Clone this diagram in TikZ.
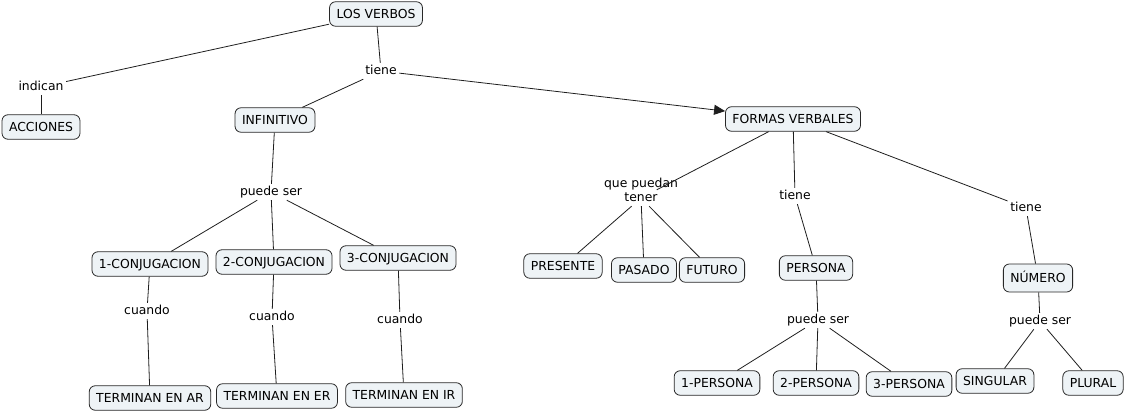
\documentclass[tikz,border=0pt]{standalone}
\usepackage{fontspec}
\setmainfont{DejaVu Sans}
\usetikzlibrary{arrows.meta}
\definecolor{boxfill}{RGB}{238,243,246}
\definecolor{boxline}{RGB}{40,40,40}
\definecolor{linkline}{RGB}{30,30,30}
\begin{document}
\begin{tikzpicture}[x=1pt,y=-1pt,
  concept/.style={draw=boxline,line width=0.8pt,fill=boxfill,rounded corners=6pt,
    font=\fontsize{12.4}{14}\selectfont,inner xsep=7pt,inner ysep=0pt,
    minimum height=24.5pt,text height=9pt,text depth=0pt},
  linkp/.style={font=\fontsize{12.4}{14}\selectfont,inner sep=2.5pt,align=center,
    text height=9pt,text depth=2pt},
  conn/.style={draw=linkline,line width=0.8pt},
  arr/.style={conn,-{Triangle[length=11pt,width=10pt]}}]
\useasboundingbox (0,0) rectangle (1126,412);

% concepts
\node[concept] (verbos) at (376,14) {LOS VERBOS};
\node[concept] (acciones) at (41,127) {ACCIONES};
\node[concept] (infinitivo) at (275,120) {INFINITIVO};
\node[concept] (formas) at (793,119) {FORMAS VERBALES};
\node[concept] (c1) at (150,264) {1-CONJUGACION};
\node[concept] (c2) at (274,262) {2-CONJUGACION};
\node[concept] (c3) at (398,258) {3-CONJUGACION};
\node[concept] (tar) at (150,398) {TERMINAN EN AR};
\node[concept] (ter) at (277,396) {TERMINAN EN ER};
\node[concept] (tir) at (404,395) {TERMINAN EN IR};
\node[concept] (presente) at (563,266) {PRESENTE};
\node[concept] (pasado) at (644,270) {PASADO};
\node[concept] (futuro) at (712,270) {FUTURO};
\node[concept] (persona) at (816,268) {PERSONA};
\node[concept,minimum height=28pt] (numero) at (1038,278) {NÚMERO};
\node[concept] (p1) at (717,383) {1-PERSONA};
\node[concept] (p2) at (816,383) {2-PERSONA};
\node[concept] (p3) at (909,384) {3-PERSONA};
\node[concept] (singular) at (995,381) {SINGULAR};
\node[concept] (plural) at (1093,383) {PLURAL};

% linking phrases
\node[linkp] (indican) at (41,87) {indican};
\node[linkp] (tiene1) at (381,71) {tiene};
\node[linkp] (puede1) at (271,192) {puede ser};
\node[linkp] (cuando1) at (147,311) {cuando};
\node[linkp] (cuando2) at (272,317) {cuando};
\node[linkp] (cuando3) at (400,320) {cuando};
\node[linkp] (quepuedan) at (641,198) {que puedan\\tener};
\node[linkp] (tiene2) at (795,196) {tiene};
\node[linkp] (tiene3) at (1026,208) {tiene};
\node[linkp] (puede2) at (818,320) {puede ser};
\node[linkp] (puede3) at (1040,321) {puede ser};

% connectors
\draw[conn] (verbos) -- (indican);
\draw[conn] (indican) -- (acciones);
\draw[conn] (verbos) -- (tiene1);
\draw[conn] (tiene1) -- (infinitivo);
\draw[arr] (tiene1) -- (formas);
\draw[conn] (infinitivo) -- (puede1);
\draw[conn] (puede1) -- (c1);
\draw[conn] (puede1) -- (c2);
\draw[conn] (puede1) -- (c3);
\draw[conn] (c1) -- (cuando1);
\draw[conn] (cuando1) -- (tar);
\draw[conn] (c2) -- (cuando2);
\draw[conn] (cuando2) -- (ter);
\draw[conn] (c3) -- (cuando3);
\draw[conn] (cuando3) -- (tir);
\draw[conn] (formas) -- (quepuedan);
\draw[conn] (quepuedan) -- (presente);
\draw[conn] (quepuedan) -- (pasado);
\draw[conn] (quepuedan) -- (futuro);
\draw[conn] (formas) -- (tiene2);
\draw[conn] (tiene2) -- (persona);
\draw[conn] (formas) -- (tiene3);
\draw[conn] (tiene3) -- (numero);
\draw[conn] (persona) -- (puede2);
\draw[conn] (puede2) -- (p1);
\draw[conn] (puede2) -- (p2);
\draw[conn] (puede2) -- (p3);
\draw[conn] (numero) -- (puede3);
\draw[conn] (puede3) -- (singular);
\draw[conn] (puede3) -- (plural);
\end{tikzpicture}
\end{document}
